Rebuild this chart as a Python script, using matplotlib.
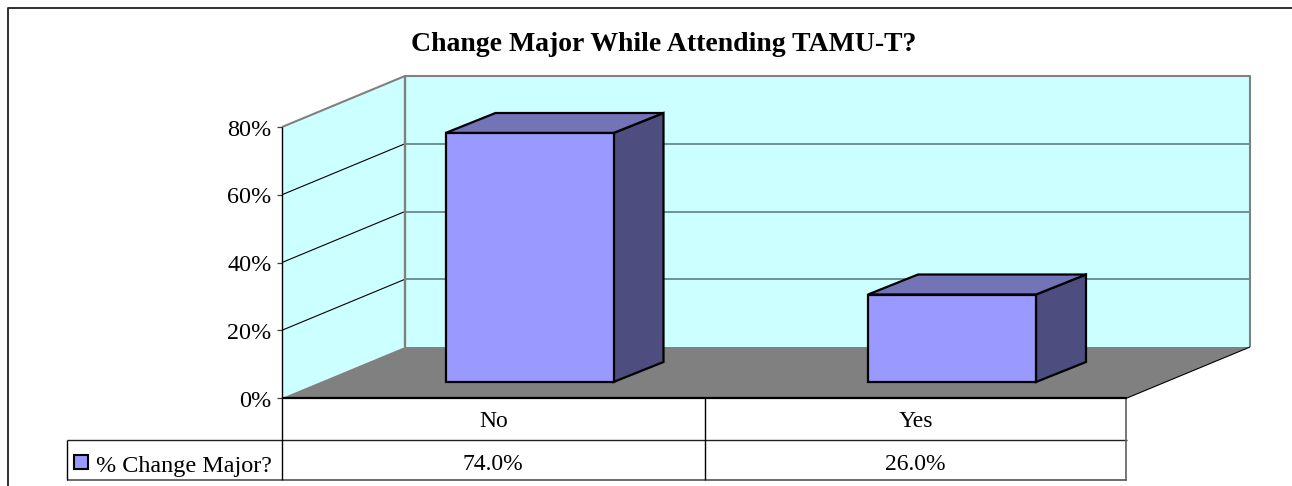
#!/usr/bin/env python
import matplotlib
matplotlib.use("Agg")
import matplotlib.pyplot as plt
from matplotlib.patches import Polygon, Rectangle

title = "Change Major While Attending TAMU-T?"
series_name = "% Change Major?"
categories = ["No", "Yes"]
values = [74.0, 26.0]
ticks = [0, 20, 40, 60, 80]

W, H = 1292, 486
x0, x1 = 282, 1127      # front edge of the floor
y0, y_per = 398, 271 / 80
dx, dy = 123, -51       # depth of the box
bar_w, bar_base = 168, 382
bar_dx, bar_dy = 50, -20
bar_off = 163.5         # from category start to bar left
bar_scale = 249 / 74    # bars sit a bit deeper so their scale is smaller
cat_w = (x1 - x0) / len(categories)
wall = "#CCFFFF"
grey = "#808080"


def val_y(v):
    return y0 - v * y_per


def poly(ax, pts, fc, ec="none", lw=0, z=2):
    ax.add_patch(Polygon(pts, closed=True, fc=fc, ec=ec, lw=lw, zorder=z, joinstyle="miter"))


def line(ax, xs, ys, c="black", lw=1.0, z=3):
    ax.plot(xs, ys, color=c, lw=lw, zorder=z, solid_capstyle="butt")


def main():
    plt.rcParams["font.family"] = ["Liberation Serif"]
    fig = plt.figure(figsize=(W / 100, H / 100), dpi=100)
    ax = fig.add_axes([0, 0, 1, 1])
    ax.set_xlim(0, W)
    ax.set_ylim(H, 0)
    ax.axis("off")

    # outer frame, only top and left show
    line(ax, [8, 8, W], [H, 8, 8], c="#303030", lw=1.4)

    ax.text(664, 51, title, fontsize=20, fontweight="bold", ha="center", va="baseline")

    ytop = val_y(80)
    # walls and floor
    poly(ax, [(x0, y0), (x0 + dx, y0 + dy), (x0 + dx, ytop + dy), (x0, ytop)], wall)
    poly(ax, [(x0 + dx, y0 + dy), (x1 + dx, y0 + dy), (x1 + dx, ytop + dy), (x0 + dx, ytop + dy)], wall)
    poly(ax, [(x0, y0), (x0 + dx, y0 + dy), (x1 + dx, y0 + dy), (x1, y0)], grey)

    # grid lines
    for t in ticks[1:-1]:
        y = val_y(t)
        line(ax, [x0, x0 + dx], [y, y + dy], lw=0.8)
        line(ax, [x0 + dx, x1 + dx], [y + dy, y + dy], c="#5F7F7F", lw=1.2)
    line(ax, [x0, x0 + dx, x1 + dx, x1 + dx], [ytop, ytop + dy, ytop + dy, y0 + dy], c=grey, lw=1.5)
    line(ax, [x0 + dx, x0 + dx], [ytop + dy, y0 + dy], c=grey, lw=1.7)
    line(ax, [x1, x1 + dx], [y0, y0 + dy], lw=0.8)

    # value axis
    line(ax, [x0, x0], [ytop, y0], lw=1.0, z=4)
    for t in ticks:
        y = val_y(t)
        line(ax, [x0 - 5, x0], [y, y], c="#404040", lw=0.9)
        ax.text(x0 - 10.5, y + 8.5, f"{t}%", fontsize=17.4, ha="right", va="baseline")

    # bars
    for i, v in enumerate(values):
        left = x0 + i * cat_w + bar_off
        right = left + bar_w
        top = bar_base - v * bar_scale
        poly(ax, [(right, bar_base), (right + bar_dx, bar_base + bar_dy), (right + bar_dx, top + bar_dy), (right, top)],
             "#4D4D80", "black", 1.6, z=5)
        poly(ax, [(left, top), (left + bar_dx, top + bar_dy), (right + bar_dx, top + bar_dy), (right, top)],
             "#7373B8", "black", 1.6, z=5)
        poly(ax, [(left, top), (right, top), (right, bar_base), (left, bar_base)],
             "#9999FF", "black", 1.6, z=5)

    # data table
    t_mid, t_bot, t_left = 440, 480, 67
    line(ax, [x0, x1], [y0, y0], lw=1.6, z=6)
    line(ax, [t_left, x1], [t_mid, t_mid], c="#202020", lw=1.0)
    line(ax, [t_left, x1], [t_bot, t_bot], c="#606060", lw=1.3)
    line(ax, [t_left, t_left], [t_mid, t_bot], lw=1.0)
    line(ax, [x0, x0], [y0, t_bot], lw=1.0)
    line(ax, [x0 + cat_w, x0 + cat_w], [y0, t_bot], lw=1.0)
    line(ax, [x1 - 1, x1 - 1], [y0, t_bot], c="#606060", lw=1.2)
    for i, (c, v) in enumerate(zip(categories, values)):
        cx = x0 + (i + 0.5) * cat_w
        ax.text(cx, 427, c, fontsize=17, ha="center", va="baseline")
        ax.text(cx, 470, f"{v:.1f}%", fontsize=17, ha="center", va="baseline")
    ax.add_patch(Rectangle((74, 455), 14, 14, fc="#9999FF", ec="black", lw=1.5, zorder=5))
    ax.text(96, 471.5, series_name, fontsize=17.4, ha="left", va="baseline")

    fig.savefig("out.png", dpi=100)


if __name__ == "__main__":
    main()
